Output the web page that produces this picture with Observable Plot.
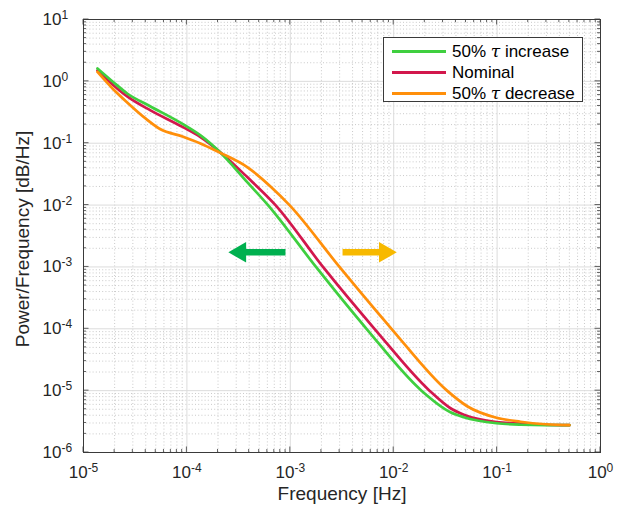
<!DOCTYPE html>
<html><head><meta charset="utf-8">
<script src="https://cdn.jsdelivr.net/npm/d3@7"></script>
<script src="https://cdn.jsdelivr.net/npm/@observablehq/plot@0.6"></script>
<style>
body{margin:0;background:#fff;}
#wrap{position:relative;width:627px;height:519px;font-family:"Liberation Sans",Arial,Helvetica,sans-serif;}
#legend{position:absolute;left:383px;top:37px;width:200px;height:65px;border:1px solid #3a3a3a;background:#fff;box-sizing:border-box;}
.row{position:absolute;left:8px;height:20px;display:flex;align-items:center;font-size:17px;color:#000;white-space:nowrap;}
.sw{display:inline-block;width:54px;height:3px;margin-right:6px;}
</style></head><body><div id="wrap"></div>
<script>
// ---- data ----
const seriesNames = ["50% \u03c4 increase", "Nominal", "50% \u03c4 decrease"];
const seriesColors = ["#3fcf3f", "#d2174c", "#ff8f0a"];

const freqIncrease = [1.365e-5, 1.908e-5, 2.646e-5, 4.446e-5, 9.066e-5, 1.353e-4, 2.035e-4, 3.83e-4, 6.084e-4, 1.772e-3, 5.456e-3, 1.857e-2, 3.542e-2, 4.763e-2, 9.867e-2, 0.1684, 0.2938, 0.5];
const psdIncrease  = [1.616, 0.996, 0.637, 0.393, 0.205, 0.1337, 0.0746, 0.02352, 0.01, 0.001, 1e-4, 1e-5, 4.479e-6, 3.718e-6, 2.974e-6, 2.812e-6, 2.761e-6, 2.761e-6];

const freqNominal = [1.365e-5, 1.908e-5, 2.646e-5, 4.446e-5, 9.066e-5, 1.353e-4, 2.035e-4, 3.83e-4, 7.19e-4, 2.071e-3, 6.521e-3, 2.219e-2, 3.542e-2, 4.763e-2, 9.867e-2, 0.1684, 0.2938, 0.5];
const psdNominal  = [1.5, 0.891, 0.57, 0.339, 0.1834, 0.1255, 0.0746, 0.02833, 0.01, 0.001, 1e-4, 1e-5, 5.195e-6, 4.079e-6, 3.11e-6, 2.941e-6, 2.812e-6, 2.761e-6];

const freqDecrease = [1.365e-5, 1.908e-5, 2.646e-5, 3.978e-5, 5.556e-5, 9.066e-5, 1.353e-4, 2.035e-4, 3.83e-4, 6.432e-4, 9.824e-4, 2.991e-3, 9.521e-3, 3.278e-2, 5.137e-2, 9.867e-2, 0.1684, 0.2938, 0.5];
const psdDecrease  = [1.419, 0.768, 0.456, 0.2516, 0.168, 0.1288, 0.0993, 0.0718, 0.0411, 0.02005, 0.01, 0.001, 1e-4, 1e-5, 5.598e-6, 3.649e-6, 3.145e-6, 2.865e-6, 2.761e-6];

const xTickValues = [1e-5, 1e-4, 1e-3, 1e-2, 1e-1, 1];
const yTickValues = [1e-6, 1e-5, 1e-4, 1e-3, 1e-2, 1e-1, 1, 10];

// annotation arrows: tail x, tip x, level y
const arrowTail = [8.98e-4, 3.2e-3];
const arrowTip  = [2.52e-4, 1.07e-2];
const arrowLevel = [1.72e-3, 1.72e-3];
const arrowColors = ["#00b04f", "#f7b900"];

// ---- build tables ----
const rows = [];
[[freqIncrease, psdIncrease], [freqNominal, psdNominal], [freqDecrease, psdDecrease]].forEach(([fs, ps], i) => {
  fs.forEach((f, j) => rows.push({series: seriesNames[i], f, p: ps[j]}));
});
const minor = (majors) => {
  const out = [];
  for (let k = 0; k < majors.length - 1; k++) for (let m = 2; m <= 9; m++) out.push(majors[k] * m);
  return out;
};
const xMinor = minor(xTickValues), yMinor = minor(yTickValues);
const arrows = arrowTail.map((t, i) => ({x1: t, x2: arrowTip[i], y: arrowLevel[i], color: arrowColors[i], dir: arrowTip[i] < t ? -1 : 1}));
const leftArrows = arrows.filter(a => a.dir < 0), rightArrows = arrows.filter(a => a.dir > 0);

const drawOrder = [1, 0, 2];
const font = '"Liberation Sans", Arial, Helvetica, sans-serif';

const fig = Plot.plot({
  width: 627, height: 519,
  marginLeft: 83, marginRight: 27, marginTop: 19, marginBottom: 67,
  style: {fontFamily: font, background: "#fff", color: "#262626"},
  x: {type: "log", domain: [1e-5, 1]},
  y: {type: "log", domain: [1e-6, 10]},
  marks: [
    Plot.ruleX(xMinor, {stroke: "#bcbcbc", strokeDasharray: "1,2.2", strokeWidth: 0.8}),
    Plot.ruleY(yMinor, {stroke: "#bcbcbc", strokeDasharray: "1,2.2", strokeWidth: 0.8}),
    Plot.ruleX(xTickValues, {stroke: "#dcdcdc", strokeWidth: 1}),
    Plot.ruleY(yTickValues, {stroke: "#dcdcdc", strokeWidth: 1}),
    ...drawOrder.map(i => Plot.line(rows.filter(r => r.series === seriesNames[i]), {
      x: "f", y: "p", stroke: seriesColors[i], strokeWidth: 2.7, curve: "monotone-x"
    })),
    Plot.arrow(arrows, {x1: "x1", x2: "x2", y1: "y", y2: "y", stroke: "color", strokeWidth: 6.5,
      headLength: 0, insetEnd: 16, strokeLinecap: "butt"}),
    Plot.dot(leftArrows, {x: "x2", y: "y", fill: "color", symbol: "triangle", r: 7.6, rotate: -90, dx: 11.8}),
    Plot.dot(rightArrows, {x: "x2", y: "y", fill: "color", symbol: "triangle", r: 7.6, rotate: 90, dx: -11.8}),
    Plot.axisX(xTickValues, {tickSize: 0, tickPadding: 13, fontSize: 17, tickFormat: d => String(Math.round(Math.log10(d))), label: null}),
    Plot.axisY(yTickValues, {tickSize: 0, tickPadding: 41, textAnchor: "start", fontSize: 17, tickFormat: d => String(Math.round(Math.log10(d))), label: null}),
    Plot.text(["Frequency [Hz]"], {frameAnchor: "bottom", dy: 47, fontSize: 19, fill: "#262626"}),
    Plot.text(["Power/Frequency [dB/Hz]"], {frameAnchor: "left", textAnchor: "middle", dx: -61, dy: 3, rotate: -90, fontSize: 19, fill: "#262626"}),
    Plot.frame({stroke: "#3a3a3a", strokeWidth: 1})
  ]
});

// superscript exponents on tick labels
d3.select(fig).selectAll('g[aria-label="x-axis tick label"] text, g[aria-label="y-axis tick label"] text').each(function() {
  const exp = this.textContent;
  const t = d3.select(this);
  t.text("10");
  t.append("tspan").attr("dy", "-0.5em").attr("font-size", "12px").text(exp);
});

// inward tick marks on all four sides
const sx = fig.scale("x"), sy = fig.scale("y");
const [L, R] = sx.range, [B, T] = sy.range;
const tg = d3.select(fig).append("g").attr("stroke", "#3a3a3a").attr("stroke-width", 0.8);
const addX = (vals, len) => vals.forEach(v => {
  const x = sx.apply(v);
  tg.append("line").attr("x1", x).attr("x2", x).attr("y1", B).attr("y2", B - len);
  tg.append("line").attr("x1", x).attr("x2", x).attr("y1", T).attr("y2", T + len);
});
const addY = (vals, len) => vals.forEach(v => {
  const y = sy.apply(v);
  tg.append("line").attr("y1", y).attr("y2", y).attr("x1", L).attr("x2", L + len);
  tg.append("line").attr("y1", y).attr("y2", y).attr("x1", R).attr("x2", R - len);
});
addX(xTickValues, 5.5); addX(xMinor, 3);
addY(yTickValues, 5.5); addY(yMinor, 3);

const wrap = document.getElementById("wrap");
wrap.appendChild(fig);

// legend
const legend = document.createElement("div");
legend.id = "legend";
seriesNames.forEach((name, i) => {
  const row = document.createElement("div");
  row.className = "row";
  row.style.top = (3.5 + i * 21) + "px";
  const sw = document.createElement("span");
  sw.className = "sw"; sw.style.background = seriesColors[i];
  row.appendChild(sw);
  const label = document.createElement("span");
  if (name.includes("\u03c4")) {
    const [a, b] = name.split("\u03c4");
    label.append(a);
    const tau = document.createElement("i"); tau.textContent = "\u03c4";
    tau.style.fontFamily = '"DejaVu Serif", serif';
    label.append(tau);
    label.append(b);
  } else label.textContent = name;
  row.appendChild(label);
  legend.appendChild(row);
});
wrap.appendChild(legend);
</script></body></html>
